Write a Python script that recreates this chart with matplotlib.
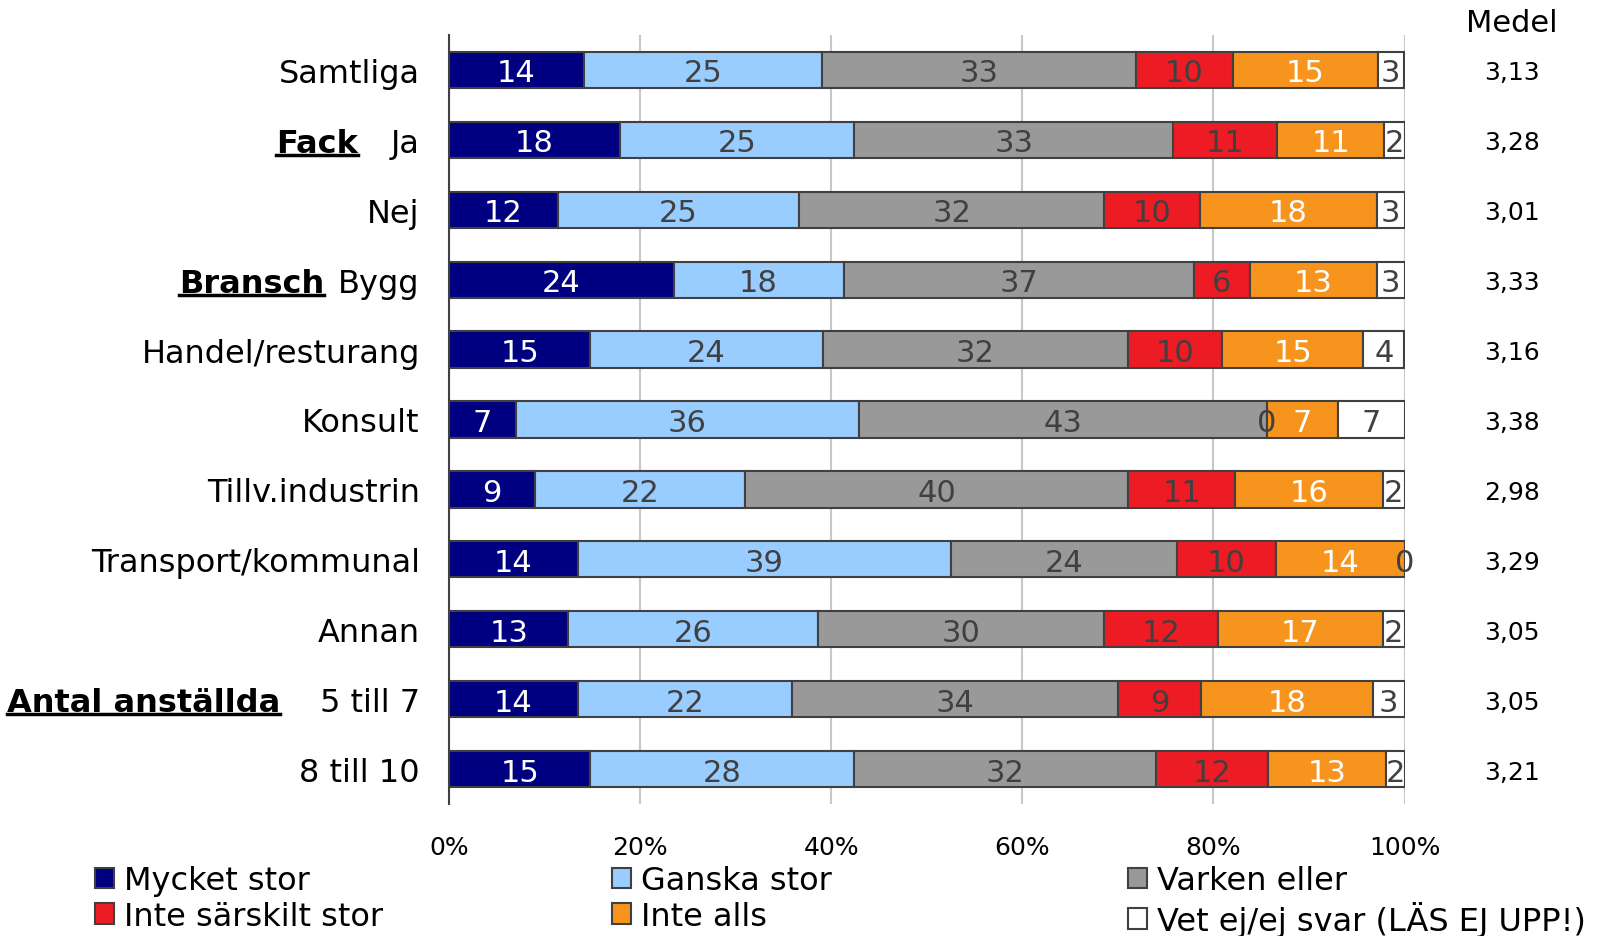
import matplotlib
matplotlib.use("Agg")
import matplotlib.pyplot as plt
import matplotlib.transforms as mtransforms
from matplotlib.patches import Patch
from matplotlib.lines import Line2D
import numpy as np

plt.rcParams['font.family'] = ['DejaVu Sans']

# ---------------- data ----------------
categories = ["Samtliga", "Ja", "Nej", "Bygg", "Handel/resturang", "Konsult",
              "Tillv.industrin", "Transport/kommunal", "Annan", "5 till 7", "8 till 10"]
groups = {1: "Fack", 3: "Bransch", 9: "Antal anställda"}

series_names = ["Mycket stor", "Ganska stor", "Varken eller",
                "Inte särskilt stor", "Inte alls", "Vet ej/ej svar (LÄS EJ UPP!)"]

mycket_stor = [14.1, 17.9, 11.4, 23.5, 14.8, 7.0, 9.0, 13.5, 12.5, 13.5, 14.8]
ganska_stor = [24.9, 24.5, 25.2, 17.8, 24.3, 35.9, 22.0, 39.0, 26.1, 22.4, 27.6]
varken_eller = [32.9, 33.4, 32.0, 36.7, 32.0, 42.7, 40.1, 23.7, 30.0, 34.1, 31.6]
inte_sarskilt = [10.1, 10.9, 10.0, 5.8, 9.8, 0.0, 11.2, 10.3, 11.9, 8.7, 11.7]
inte_alls = [15.2, 11.2, 18.5, 13.3, 14.8, 7.4, 15.4, 13.5, 17.2, 18.0, 12.4]
vet_ej = [2.7, 2.1, 2.9, 2.9, 4.3, 7.0, 2.3, 0.0, 2.3, 3.3, 1.9]

lab_mycket = [14, 18, 12, 24, 15, 7, 9, 14, 13, 14, 15]
lab_ganska = [25, 25, 25, 18, 24, 36, 22, 39, 26, 22, 28]
lab_varken = [33, 33, 32, 37, 32, 43, 40, 24, 30, 34, 32]
lab_inte_sarskilt = [10, 11, 10, 6, 10, 0, 11, 10, 12, 9, 12]
lab_inte_alls = [15, 11, 18, 13, 15, 7, 16, 14, 17, 18, 13]
lab_vet = [3, 2, 3, 3, 4, 7, 2, 0, 2, 3, 2]

medel = [3.13, 3.28, 3.01, 3.33, 3.16, 3.38, 2.98, 3.29, 3.05, 3.05, 3.21]
xticks = [0, 20, 40, 60, 80, 100]
xtick_labels = ["0%", "20%", "40%", "60%", "80%", "100%"]

colors = ["#000080", "#99CCFF", "#999999", "#ED1C24", "#F7941D", "#FFFFFF"]
text_colors = ["white", "#404040", "#404040", "#404040", "white", "#404040"]

# ---------------- figure ----------------
W, H = 1618, 937
fig = plt.figure(figsize=(W / 100, H / 100), dpi=100)
ax = fig.add_axes([449 / W, 1 - 805 / H, (1404.5 - 449) / W, (805 - 36) / H])

values = [mycket_stor, ganska_stor, varken_eller, inte_sarskilt, inte_alls, vet_ej]
labels = [lab_mycket, lab_ganska, lab_varken, lab_inte_sarskilt, lab_inte_alls, lab_vet]

y = np.arange(len(categories))
left = np.zeros(len(categories))
handles = []
for vals, labs, col, tcol, name in zip(values, labels, colors, text_colors, series_names):
    vals = np.array(vals)
    ax.barh(y, vals, left=left, height=0.52, color=col, edgecolor="#404040",
            linewidth=1.5, zorder=3)
    for i in range(len(categories)):
        ax.text(left[i] + vals[i] / 2, y[i], str(labs[i]), ha="center",
                va="center_baseline", color=tcol, fontsize=22, zorder=4)
    left = left + vals
    handles.append(Patch(facecolor=col, edgecolor="#404040", linewidth=1.5, label=name))

ax.set_xlim(0, 100)
ax.set_ylim(len(categories) - 0.5, -0.5)
ax.set_xticks(xticks)
ax.set_xticklabels(xtick_labels, fontsize=18)
ax.set_yticks(y)
ax.set_yticklabels(categories, fontsize=23)
ax.tick_params(axis="y", length=0, pad=21)
ax.tick_params(axis="x", length=0, pad=22)
ax.grid(axis="x", color="#C8C8C8", linewidth=1.5, zorder=0)
ax.set_axisbelow(True)
for s in ["top", "right", "bottom"]:
    ax.spines[s].set_visible(False)
ax.spines["left"].set_color("#404040")
ax.spines["left"].set_linewidth(1.5)
ax.spines["left"].set_zorder(5)

# group headers (bold, underlined)
blend = mtransforms.blended_transform_factory(fig.transFigure, ax.transData)
group_right = {1: 358, 3: 324, 9: 280}
group_texts = []
for idx, name in groups.items():
    t = fig.text(group_right[idx] / W, idx, name, transform=blend, ha="right",
                 va="center_baseline", fontsize=23, fontweight="bold", color="black")
    group_texts.append(t)

# Medel column
fig.text(1512 / W, 1 - 23 / H, "Medel", ha="center", va="center", fontsize=22)
for i, m in enumerate(medel):
    fig.text(1512 / W, i, f"{m:.2f}".replace(".", ","), transform=blend,
             ha="center", va="center_baseline", fontsize=18)

# legend: three columns with two rows each
order = [[0, 3], [1, 4], [2, 5]]
col_x = [95, 612, 1128]
for cx, idxs in zip(col_x, order):
    fig.legend([handles[k] for k in idxs], [series_names[k] for k in idxs],
               loc="upper left", bbox_to_anchor=(cx / W, 1 - 866 / H),
               frameon=False, fontsize=23, handlelength=0.6, handleheight=0.6,
               handletextpad=0.3, labelspacing=0.15, borderpad=0, borderaxespad=0)

# underline group headers
fig.canvas.draw()
r = fig.canvas.get_renderer()
inv = fig.transFigure.inverted()
for t in group_texts:
    bb = t.get_window_extent(r)
    x0, x1 = bb.x0, bb.x1
    yline = bb.y0 + 4
    (fx0, fy), (fx1, _) = inv.transform([(x0, yline), (x1, yline)])
    fig.add_artist(Line2D([fx0, fx1], [fy, fy], transform=fig.transFigure,
                          color="black", linewidth=2.5))

fig.savefig("out.png", dpi=100)
